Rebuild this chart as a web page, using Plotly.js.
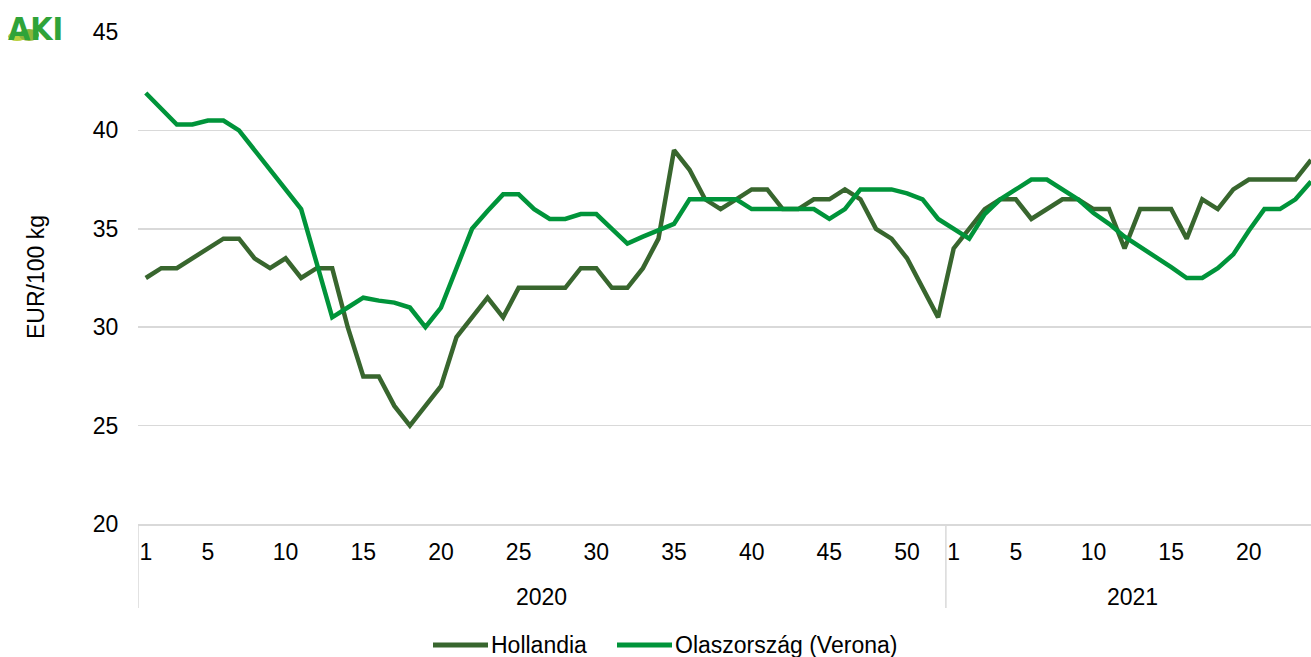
<!DOCTYPE html>
<html>
<head>
<meta charset="utf-8">
<script src="https://cdn.plot.ly/plotly-3.0.1.min.js"></script>
<style>html,body{margin:0;padding:0;background:#fff;}#chart{width:1311px;height:657px;}</style>
</head>
<body>
<div id="chart"></div>
<script>
// Categories: weeks of each year
var years = ["2020", "2021"];
var weeks2020 = [1,2,3,4,5,6,7,8,9,10,11,12,13,14,15,16,17,18,19,20,21,22,23,24,25,26,27,28,29,30,31,32,33,34,35,36,37,38,39,40,41,42,43,44,45,46,47,48,49,50,51,52];
var weeks2021 = [1,2,3,4,5,6,7,8,9,10,11,12,13,14,15,16,17,18,19,20,21,22,23,24];
var shownWeekLabels = [1,5,10,15,20,25,30,35,40,45,50];

// Series values (EUR/100 kg)
var hollandia2020 = [32.5,33,33,33.5,34,34.5,34.5,33.5,33,33.5,
                     32.5,33,33,30,27.5,27.5,26,25,26,27,
                     29.5,30.5,31.5,30.5,32,32,32,32,33,33,
                     32,32,33,34.5,39,38,36.5,36,36.5,37,
                     37,36,36,36.5,36.5,37,36.5,35,34.5,33.5,
                     32,30.5];
var hollandia2021 = [34,35,36,36.5,36.5,35.5,36,36.5,36.5,36,
                     36,34,36,36,36,34.5,36.5,36,37,37.5,
                     37.5,37.5,37.5,38.5];
var olasz2020 = [41.9,41.1,40.3,40.3,40.5,40.5,40,39,38,37,
                 36,33.25,30.5,31,31.5,31.35,31.25,31,30,31,
                 33,35,35.9,36.75,36.75,36,35.5,35.5,35.75,35.75,
                 35,34.25,34.6,34.95,35.25,36.5,36.5,36.5,36.5,36,
                 36,36,36,36,35.5,36,37,37,37,36.8,
                 36.5,35.5];
var olasz2021 = [35,34.5,35.75,36.5,37,37.5,37.5,37,36.5,35.8,
                 35.25,34.6,34.1,33.6,33.05,32.5,32.5,33,33.7,34.9,
                 36,36,36.5,37.4];

var seriesNames = ["Hollandia", "Olaszország (Verona)"];
var seriesColors = ["#38662E", "#00943A"];
var yAxisTitle = "EUR/100 kg";

// Build category positions
var cats = [];
weeks2020.forEach(function(w){ cats.push({year: years[0], week: w}); });
weeks2021.forEach(function(w){ cats.push({year: years[1], week: w}); });
var xIdx = cats.map(function(c, i){ return i; });

var tickvals = [], ticktext = [];
cats.forEach(function(c, i){
  if (shownWeekLabels.indexOf(c.week) >= 0) { tickvals.push(i); ticktext.push(String(c.week)); }
});

var n2020 = weeks2020.length, n2021 = weeks2021.length;
var hol = hollandia2020.concat(hollandia2021);
var ola = olasz2020.concat(olasz2021);

var fontFam = "Liberation Sans, Arial, sans-serif";
var fs = 23;

var traces = [
  {x: xIdx, y: hol, type: "scatter", mode: "lines", name: seriesNames[0],
   line: {color: seriesColors[0], width: 4.5, shape: "linear"}, showlegend: false},
  {x: xIdx, y: ola, type: "scatter", mode: "lines", name: seriesNames[1],
   line: {color: seriesColors[1], width: 4.5, shape: "linear"}, showlegend: false}
];

var plotL = 138, plotT = 32, plotW = 1173, plotH = 492;
function px2paperX(px){ return (px - plotL) / plotW; }
function px2paperY(py){ return (plotT + plotH - py) / plotH; }

var sepBottom = px2paperY(608);
var legY = px2paperY(645);
var legItems = [{x0: 433, x1: 488, tx: 491}, {x0: 617, x1: 672, tx: 675}];

var shapes = [
  {type: "line", xref: "x", yref: "paper", x0: -0.5, x1: -0.5, y0: 0, y1: sepBottom, line: {color: "#d9d9d9", width: 1.5}},
  {type: "line", xref: "x", yref: "paper", x0: n2020 - 0.5, x1: n2020 - 0.5, y0: 0, y1: sepBottom, line: {color: "#d9d9d9", width: 1.5}},
  // logo hills
  {type: "circle", xref: "paper", yref: "paper", x0: px2paperX(8), x1: px2paperX(26), y0: px2paperY(41), y1: px2paperY(32), fillcolor: "#B8CF3E", line: {width: 0}, layer: "above"},
  {type: "circle", xref: "paper", yref: "paper", x0: px2paperX(19), x1: px2paperX(39), y0: px2paperY(41), y1: px2paperY(29), fillcolor: "#8DB63C", line: {width: 0}, layer: "above"}
];
legItems.forEach(function(it, i){
  shapes.push({type: "line", xref: "paper", yref: "paper", x0: px2paperX(it.x0), x1: px2paperX(it.x1), y0: legY, y1: legY,
               line: {color: seriesColors[i], width: 5}});
});

var annotations = [
  {xref: "x", yref: "paper", x: (n2020 - 1) / 2, y: px2paperY(597), text: years[0], showarrow: false,
   font: {family: fontFam, size: fs, color: "#000"}, xanchor: "center", yanchor: "middle"},
  {xref: "x", yref: "paper", x: n2020 + (n2021 - 1) / 2, y: px2paperY(597), text: years[1], showarrow: false,
   font: {family: fontFam, size: fs, color: "#000"}, xanchor: "center", yanchor: "middle"},
  {xref: "paper", yref: "paper", x: px2paperX(36), y: px2paperY(277), text: yAxisTitle, textangle: -90, showarrow: false,
   font: {family: fontFam, size: fs, color: "#000"}, xanchor: "center", yanchor: "middle"},
  {xref: "paper", yref: "paper", x: px2paperX(35), y: px2paperY(29), text: "<b>AKI</b>", showarrow: false,
   font: {family: "Liberation Sans Narrow, DejaVu Sans Condensed, Liberation Sans, sans-serif", size: 32, color: "#2FA339"},
   xanchor: "center", yanchor: "middle"}
];
legItems.forEach(function(it, i){
  annotations.push({xref: "paper", yref: "paper", x: px2paperX(it.tx), y: legY, text: seriesNames[i], showarrow: false,
    font: {family: fontFam, size: fs, color: "#000"}, xanchor: "left", yanchor: "middle", xshift: -2});
});

var layout = {
  width: 1311, height: 657,
  margin: {l: plotL, r: 0, t: plotT, b: 657 - plotT - plotH, pad: 0},
  paper_bgcolor: "#fff", plot_bgcolor: "#fff",
  font: {family: fontFam, size: fs, color: "#000"},
  showlegend: false,
  xaxis: {type: "linear", range: [-0.5, n2020 + n2021 - 1], tickmode: "array", tickvals: tickvals, ticktext: ticktext,
          showgrid: false, zeroline: false, showline: true, linecolor: "#d9d9d9", linewidth: 1.5,
          ticks: "outside", ticklen: 7, tickcolor: "rgba(0,0,0,0)", tickfont: {family: fontFam, size: fs, color: "#000"},
          fixedrange: true},
  yaxis: {range: [20, 45], dtick: 5, tick0: 20, showgrid: true, gridcolor: "#d9d9d9", gridwidth: 1.5,
          zeroline: false, showline: false, ticks: "outside", ticklen: 14, tickcolor: "rgba(0,0,0,0)",
          tickfont: {family: fontFam, size: fs, color: "#000"}, fixedrange: true},
  shapes: shapes,
  annotations: annotations
};

Plotly.newPlot("chart", traces, layout, {displayModeBar: false, staticPlot: true});
</script>
</body>
</html>
